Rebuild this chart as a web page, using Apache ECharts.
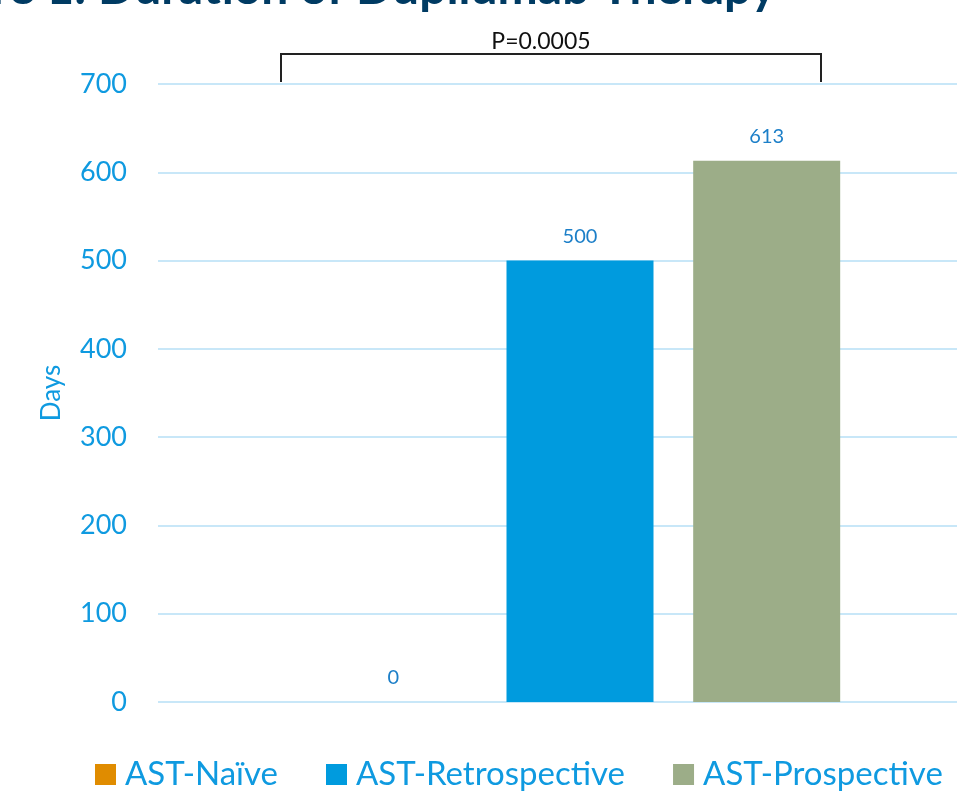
<!DOCTYPE html>
<html>
<head>
<meta charset="utf-8">
<script src="https://cdn.jsdelivr.net/npm/echarts@6/dist/echarts.min.js"></script>
<style>
	html, body { margin: 0; padding: 0; background: #fff; overflow: hidden; }
	/* the plot runs past the right edge of the picture, so the canvas is wider than the window */
	#chart { width: 1002px; height: 806px; }
</style>
</head>
<body>
<div id="chart"></div>
<script>
// data
const categories = ["Duration"];
const seriesNames = ["AST-Naïve", "AST-Retrospective", "AST-Prospective"];
const naiveDays = [0];
const retroDays = [500];
const prospDays = [613];
const yTicks = { min: 0, max: 700, step: 100 };
const pText = "P=0.0005";

const blue = "#0f9ae0";
const labelBlue = "#1c7fc8";

let myChart = echarts.init(document.getElementById("chart"));

function barSeries(name, data, color) {
	return {
		name: name,
		type: "bar",
		data: data,
		barWidth: 147,
		barGap: "27%",
		itemStyle: { color: color },
		label: {
			show: true,
			position: "top",
			distance: 14,
			color: labelBlue,
			fontSize: 20,
			fontFamily: "Lato",
		},
	};
}

let option = {
	animation: false,
	backgroundColor: "#fff",
	grid: { left: 158, right: 0, top: 84, bottom: 104 },
	xAxis: {
		type: "category",
		data: categories,
		axisLine: { show: false },
		axisTick: { show: false },
		axisLabel: { show: false },
	},
	yAxis: {
		type: "value",
		min: yTicks.min,
		max: yTicks.max,
		interval: yTicks.step,
		name: "Days",
		nameLocation: "middle",
		nameGap: 93,
		nameTextStyle: { color: blue, fontSize: 26, fontFamily: "Lato" },
		axisLine: { show: false },
		axisTick: { show: false },
		axisLabel: { color: blue, fontSize: 27, fontFamily: "Lato", margin: 31 },
		splitLine: { lineStyle: { color: "#c8e7f8", width: 2 } },
	},
	legend: {
		data: seriesNames,
		left: 90,
		top: 753,
		icon: "rect",
		itemWidth: 21,
		itemHeight: 21,
		itemGap: 48,
		textStyle: { color: blue, fontSize: 33, fontFamily: "Lato", padding: [0, 0, 0, 4] },
	},
	series: [
		barSeries(seriesNames[0], naiveDays, "#e08c00"),
		barSeries(seriesNames[1], retroDays, "#009bde"),
		barSeries(seriesNames[2], prospDays, "#9cad88"),
	],
	graphic: [
		{
			type: "text",
			x: 776,
			y: 13,
			style: {
				text: "Figure 1: Duration of Dupilumab Therapy",
				align: "right",
				verticalAlign: "bottom",
				fill: "#003b63",
				font: "bold 48px Lato",
			},
		},
		{
			type: "polyline",
			shape: { points: [[281, 82], [281, 54], [821, 54], [821, 82]] },
			style: { stroke: "#222", lineWidth: 2, fill: null },
		},
		{
			type: "text",
			x: 541,
			y: 42,
			style: {
				text: pText,
				align: "center",
				verticalAlign: "middle",
				fill: "#111",
				font: "23px Lato",
			},
		},
	],
};
myChart.setOption(option);
</script>
</body>
</html>
